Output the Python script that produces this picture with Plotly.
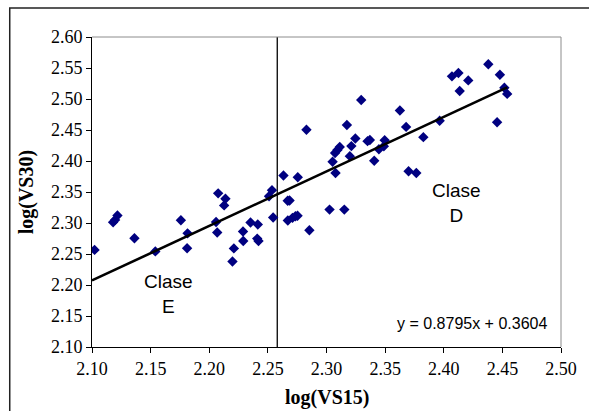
import plotly.graph_objects as go

log_vs15 = [2.1022, 2.1180, 2.1197, 2.1217, 2.1362, 2.1540, 2.1758, 2.1815, 2.1811,
            2.2058, 2.2068, 2.2076, 2.2138, 2.2127, 2.2198, 2.2210, 2.2288, 2.2290,
            2.2352, 2.2414, 2.2409, 2.2420, 2.2510, 2.2535, 2.2545, 2.2633, 2.2669,
            2.2685, 2.2670, 2.2710, 2.2735, 2.2753, 2.2755, 2.2829, 2.2854, 2.3026,
            2.3152, 2.3052, 2.3077, 2.3073, 2.3093, 2.3113, 2.3174, 2.3199, 2.3212,
            2.3246, 2.3296, 2.3350, 2.3370, 2.3407, 2.3447, 2.3489, 2.3496, 2.3626,
            2.3679, 2.3700, 2.3766, 2.3826, 2.3965, 2.4070, 2.4125, 2.4136, 2.4209,
            2.4380, 2.4479, 2.4455, 2.4517, 2.4541]
log_vs30 = [2.2566, 2.3012, 2.3050, 2.3122, 2.2754, 2.2542, 2.3045, 2.2833, 2.2593,
            2.3016, 2.2846, 2.3478, 2.3390, 2.3284, 2.2380, 2.2590, 2.2862, 2.2709,
            2.3007, 2.2977, 2.2748, 2.2710, 2.3432, 2.3530, 2.3089, 2.3766, 2.3360,
            2.3362, 2.3040, 2.3083, 2.3110, 2.3118, 2.3737, 2.4505, 2.2884, 2.3216,
            2.3216, 2.3987, 2.3806, 2.4128, 2.4178, 2.4225, 2.4580, 2.4078, 2.4240,
            2.4362, 2.4983, 2.4320, 2.4338, 2.4003, 2.4190, 2.4238, 2.4336, 2.4815,
            2.4550, 2.3834, 2.3806, 2.4385, 2.4650, 2.5365, 2.5420, 2.5130, 2.5300,
            2.5560, 2.5392, 2.4625, 2.5182, 2.5082]

slope = 0.8795
intercept = 0.3604
class_boundary = 2.258
x_ticks = [2.10, 2.15, 2.20, 2.25, 2.30, 2.35, 2.40, 2.45, 2.50]
y_ticks = [2.10, 2.15, 2.20, 2.25, 2.30, 2.35, 2.40, 2.45, 2.50, 2.55, 2.60]

fig = go.Figure()

# vertical class boundary
fig.add_trace(go.Scatter(x=[class_boundary, class_boundary], y=[2.10, 2.60], mode="lines",
                         line=dict(color="#000000", width=1.3), hoverinfo="skip", showlegend=False))

fig.add_trace(go.Scatter(x=log_vs15, y=log_vs30, mode="markers",
                         marker=dict(symbol="diamond", size=8, color="#000080"),
                         showlegend=False))

x0, x1 = 2.10, max(log_vs15)
fig.add_trace(go.Scatter(x=[x0, x1], y=[slope * x0 + intercept, slope * x1 + intercept],
                         mode="lines", line=dict(color="#000000", width=2.6),
                         hoverinfo="skip", showlegend=False))

serif = "Liberation Serif, Times New Roman, serif"
sans = "Liberation Sans, Arial, sans-serif"

fig.update_layout(
    width=589, height=411,
    margin=dict(l=92, r=18, t=37, b=64),
    paper_bgcolor="white", plot_bgcolor="white",
    xaxis=dict(range=[2.10, 2.50], tickvals=x_ticks, tickformat=".2f",
               ticks="outside", ticklen=5, tickcolor="black", showgrid=False,
               zeroline=False, showline=True, linecolor="black", linewidth=1,
               tickfont=dict(family=serif, size=18, color="black")),
    yaxis=dict(range=[2.10, 2.60], tickvals=y_ticks, tickformat=".2f",
               ticks="outside", ticklen=5, tickcolor="black", showgrid=False,
               zeroline=False, showline=True, linecolor="black", linewidth=1,
               tickfont=dict(family=serif, size=18, color="black")),
    shapes=[
        dict(type="line", xref="paper", yref="paper", x0=0, x1=1, y0=1, y1=1,
             line=dict(color="#8c8c8c", width=1)),
        dict(type="line", xref="paper", yref="paper", x0=1, x1=1, y0=0, y1=1,
             line=dict(color="#8c8c8c", width=1)),
        dict(type="rect", xref="paper", yref="paper", x0=-0.1754, x1=1.2, y0=-0.4, y1=1.0935,
             line=dict(color="#222222", width=1.5), layer="below"),
    ],
    annotations=[
        dict(text="<b>log(VS15)</b>", xref="paper", yref="paper", x=0.5, y=-0.162,
             showarrow=False, font=dict(family=serif, size=20, color="black"),
             xanchor="center", yanchor="middle"),
        dict(text="<b>log(VS30)</b>", xref="paper", yref="paper", x=-0.14, y=0.5,
             showarrow=False, textangle=-90, font=dict(family=serif, size=20, color="black"),
             xanchor="center", yanchor="middle"),
        dict(text="Clase<br>E", x=2.1655, y=2.186, showarrow=False,
             font=dict(family=sans, size=19, color="black"), align="center"),
        dict(text="Clase<br>D", x=2.411, y=2.332, showarrow=False,
             font=dict(family=sans, size=19, color="black"), align="center"),
        dict(text="y = 0.8795x + 0.3604", x=2.49, y=2.1385, showarrow=False,
             xanchor="right", font=dict(family=sans, size=16, color="black")),
    ],
)

fig.write_html("out.html")
